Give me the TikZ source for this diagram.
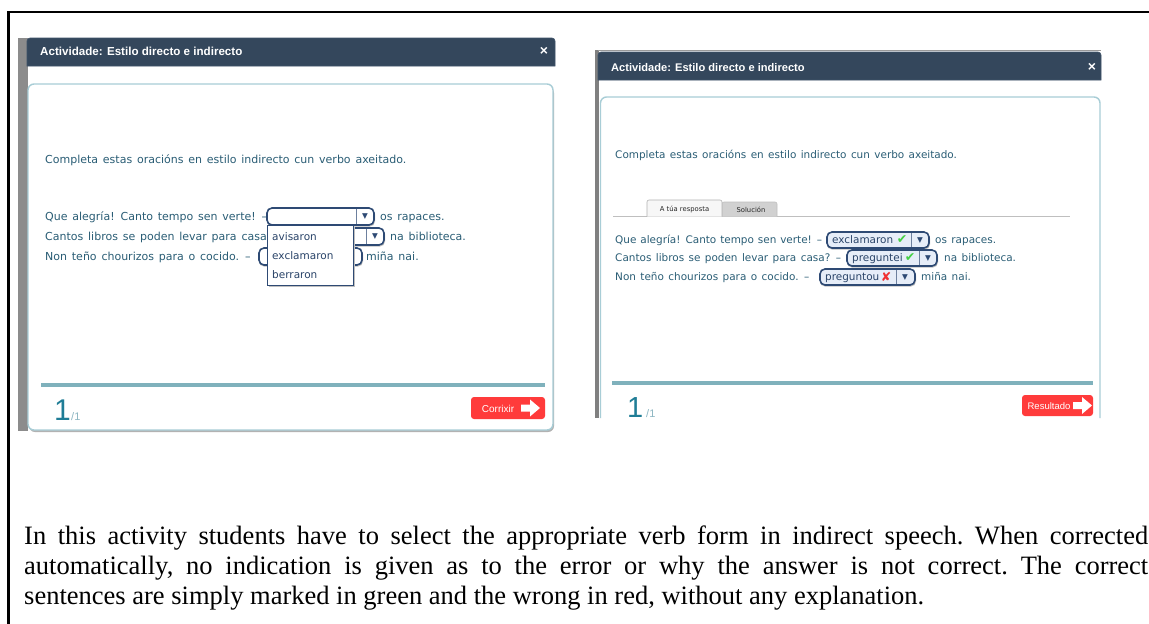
\documentclass[tikz,border=0pt]{standalone}
\usepackage{fontspec}
\setmainfont{Liberation Serif}
\newfontfamily\uifont{DejaVu Sans}
\newfontfamily\hdfont{Liberation Sans}
\newcommand\uiwideA{\spaceskip=4.8pt plus 1pt\relax}
\newcommand\uiwideB{\spaceskip=4.4pt plus 1pt\relax}
\newcommand\uiwideC{\spaceskip=3.9pt plus 1pt\relax}
\definecolor{navy}{HTML}{34475C}
\definecolor{navytop}{HTML}{3F5369}
\definecolor{txtc}{HTML}{2A5D75}
\definecolor{panelc}{HTML}{A8CDD6}
\definecolor{barc}{HTML}{7FB1BC}
\definecolor{bignum}{HTML}{1F7D96}
\definecolor{smallnum}{HTML}{8DB6C2}
\definecolor{btnred}{HTML}{FF3B3B}
\definecolor{ddborder}{HTML}{2E4A74}
\definecolor{ddfill}{HTML}{E6EDF8}
\definecolor{okgreen}{HTML}{44D044}
\definecolor{badred}{HTML}{F03030}
\tikzset{
  uitext/.style={anchor=base west, inner sep=0pt, text=txtc, font=\uifont\fontsize{11}{13}\selectfont\uiwideA},
  uitextr/.style={anchor=base west, inner sep=0pt, text=txtc, font=\uifont\fontsize{10.45}{12}\selectfont\uiwideB},
  uitextrn/.style={anchor=base west, inner sep=0pt, text=txtc, font=\uifont\fontsize{10.45}{12}\selectfont\uiwideC},
  titletext/.style={anchor=base west, inner sep=0pt, text=white, font=\hdfont\bfseries\fontsize{11.6}{13}\selectfont},
  closetext/.style={inner sep=0pt, text=white, font=\hdfont\bfseries\fontsize{14}{15}\selectfont},
  hdbar/.style={fill=navy, draw=navytop, line width=0.6pt},
  panelbox/.style={draw=panelc, line width=1.4pt, rounded corners=6pt},
  ddbox/.style={draw=ddborder, line width=1.6pt, rounded corners=5pt},
  ddshadow/.style={fill=black!25, rounded corners=5pt},
  ddsep/.style={draw=ddborder!70, line width=0.8pt},
  ddarrow/.style={inner sep=0pt, text=ddborder, font=\uifont\fontsize{7.5}{8}\selectfont},
  listtext/.style={anchor=base west, inner sep=0pt, text=ddborder!90!black, font=\uifont\fontsize{10.5}{12}\selectfont},
  okmark/.style={inner sep=0pt, text=okgreen, font=\uifont\fontsize{12.5}{13}\selectfont},
  badmark/.style={inner sep=0pt, text=badred, font=\uifont\fontsize{12.5}{13}\selectfont},
  bottombar/.style={draw=barc, line width=3.5pt},
  bigone/.style={anchor=base west, inner sep=0pt, text=bignum, font=\hdfont\fontsize{30}{32}\selectfont},
  smallone/.style={anchor=base west, inner sep=0pt, text=smallnum, font=\hdfont\fontsize{11}{12}\selectfont},
  redbtn/.style={fill=btnred, rounded corners=3pt},
  btntext/.style={inner sep=0pt, text=white, font=\hdfont\fontsize{10}{12}\selectfont},
  tabtext/.style={inner sep=0pt, text=black!85, font=\uifont\fontsize{6.8}{8}\selectfont},
  warrow/.pic={\fill[white] (0,-3.5)--(9,-3.5)--(9,-8.5)--(19,0)--(9,8.5)--(9,3.5)--(0,3.5)--cycle;},
  bodytext/.style={anchor=north west, inner sep=0pt, text width=1124pt, align=justify, font=\fontsize{26.5}{30}\selectfont}
}
\begin{document}
\begin{tikzpicture}[x=1pt,y=-1pt]
\useasboundingbox (0,0) rectangle (1149,624);
\fill[white] (0,0) rectangle (1149,624);
% outer frame
\draw[black, line width=2pt] (8.5,12) -- (1149,12);
\draw[black, line width=2.5pt] (8.5,11) -- (8.5,624);

% ================= left screenshot =================
\fill[black!45] (18,38) rectangle (28,431);
\fill[white] (28,66) rectangle (555,431);
\path[hdbar, rounded corners=3pt] (27,66) -- (27,38) -- (555,38) [sharp corners] -- (555,66) -- cycle;
\node[titletext] (t1) at (40,55.5) {Actividade: Estilo directo e indirecto};
\node[closetext] (x1) at (544,51.5) {×};
\fill[black!30] (29,87) [rounded corners=6pt] rectangle (554,432);
\path[panelbox, fill=white] (28,84) rectangle (553,430);
\node[uitext] (l1i) at (45,163.5) {Completa estas oracións en estilo indirecto cun verbo axeitado.};

% line 1
\node[uitext] (l1a) at (45,220.5) {Que alegría! Canto tempo sen verte! –};
\path[ddshadow] (267,209.5) rectangle (375,226.5);
\path[ddbox, fill=white] (267,208) rectangle (374,225);
\draw[ddsep] (356,209) -- (356,224);
\node[ddarrow] (l1v) at (365,216.5) {▼};
\node[uitext] (l1b) at (380,220.5) {os rapaces.};
% line 2 (partly hidden by the open list)
\node[uitext] (l2a) at (45,240.5) {Cantos libros se poden levar para casa};
\path[ddshadow] (282,229.5) rectangle (385,246.5);
\path[ddbox, fill=white] (282,228) rectangle (384,245);
\draw[ddsep] (366,229) -- (366,244);
\node[ddarrow] (l2v) at (375,236.5) {▼};
\node[uitext] (l2b) at (390,240.5) {na biblioteca.};
% line 3
\node[uitext] (l3a) at (45,260.5) {Non teño chourizos para o cocido. –};
\path[ddshadow] (259,249.5) rectangle (363,266.5);
\path[ddbox, fill=white] (259,248) rectangle (362,265);
\node[uitext] (l3b) at (366,260.5) {miña nai.};
% open list
\fill[black!25] (268.5,226.5) rectangle (355,287);
\draw[ddborder, line width=1pt, fill=white] (267,225) rectangle (353,285);
\node[listtext] (o1) at (272,240) {avisaron};
\node[listtext] (o2) at (272,259) {exclamaron};
\node[listtext] (o3) at (272,278) {berraron};

% bottom
\draw[bottombar] (41,385) -- (545,385);
\node[bigone] (n1) at (54,420) {1};
\node[smallone] (d1) at (71,420) {/1};
\path[redbtn] (471,397) rectangle (545,419);
\node[btntext] (b1) at (498,408.5) {Corrixir};
\pic at (521,408) {warrow};

% ================= right screenshot =================
\fill[black!50] (595,50) rectangle (598.5,418);
\draw[black!40, line width=0.8pt] (598,50.5) -- (1101,50.5);
\fill[white] (598.5,80) rectangle (1101,418);
\path[hdbar, rounded corners=3pt] (598,80) -- (598,52) -- (1101,52) [sharp corners] -- (1101,80) -- cycle;
\node[titletext, font=\hdfont\bfseries\fontsize{11.1}{13}\selectfont] (t2) at (611,71) {Actividade: Estilo directo e indirecto};
\node[closetext] (x2) at (1092,67) {×};
\draw[panelc, line width=1.4pt, rounded corners=6pt] (600.5,418) -- (600.5,97) -- (1100,97) -- (1100,418);
\node[uitextr] (r1i) at (615,158.5) {Completa estas oracións en estilo indirecto cun verbo axeitado.};

% tabs
\draw[black!25, line width=0.8pt] (613,216.5) -- (1070,216.5);
\path[fill=black!18, draw=black!25, line width=0.6pt, rounded corners=2pt] (722,216.5) -- (722,202) -- (777,202) [sharp corners] -- (777,216.5);
\node[tabtext] (tb2) at (751,209.5) {Solución};
\path[fill=black!3, draw=black!30, line width=0.6pt, rounded corners=2pt] (647,216.5) -- (647,200) -- (722,200) [sharp corners] -- (722,216.5);
\node[tabtext] (tb1) at (684.5,209) {A túa resposta};

% line 1
\node[uitextrn] (r1a) at (615,243.5) {Que alegría! Canto tempo sen verte! –};
\path[ddshadow] (827,233.5) rectangle (930,249.5);
\path[ddbox, fill=ddfill] (827,232) rectangle (929,248);
\node[uitextr, text=ddborder!90!black] (r1s) at (832,243.5) {exclamaron};
\node[okmark] (r1k) at (902,239.5) {✔};
\draw[ddsep] (911,233) -- (911,247);
\node[ddarrow] (r1v) at (920,240.5) {▼};
\node[uitextr] (r1b) at (935,243.5) {os rapaces.};
% line 2
\node[uitextr] (r2a) at (615,261.5) {Cantos libros se poden levar para casa? –};
\path[ddshadow] (847,251.5) rectangle (938,267.5);
\path[ddbox, fill=ddfill] (847,250) rectangle (937,266);
\node[uitextr, text=ddborder!90!black] (r2s) at (852,261.5) {preguntei};
\node[okmark] (r2k) at (910,257.5) {✔};
\draw[ddsep] (919,251) -- (919,265);
\node[ddarrow] (r2v) at (928,258.5) {▼};
\node[uitextr] (r2b) at (944,261.5) {na biblioteca.};
% line 3
\node[uitextr] (r3a) at (615,280.5) {Non teño chourizos para o cocido. –};
\path[ddshadow] (820,270.5) rectangle (916,286.5);
\path[ddbox, fill=ddfill] (820,269) rectangle (915,285);
\node[uitextr, text=ddborder!90!black] (r3s) at (825,280.5) {preguntou};
\node[badmark] (r3k) at (886,276.5) {✘};
\draw[ddsep] (896,270) -- (896,284);
\node[ddarrow] (r3v) at (905,277.5) {▼};
\node[uitextr] (r3b) at (921,280.5) {miña nai.};

% bottom
\draw[bottombar] (612,383) -- (1093,383);
\node[bigone, font=\hdfont\fontsize{29}{31}\selectfont] (n2) at (627,417) {1};
\node[smallone] (d2) at (646,417) {/1};
\path[redbtn] (1022,395) rectangle (1093,416);
\node[btntext, font=\hdfont\fontsize{9.5}{11}\selectfont] (b2) at (1049,406) {Resultado};
\pic at (1073,405.5) {warrow};

% ================= caption =================
\node[bodytext] (cap) at (24,526) {\frenchspacing\hyphenpenalty=10000 In this activity students have to select the appropriate verb form in indirect speech. When corrected\linebreak automatically, no indication is given as to the error or why the answer is not correct. The correct\linebreak sentences are simply marked in green and the wrong in red, without any explanation.};
\end{tikzpicture}
\end{document}
